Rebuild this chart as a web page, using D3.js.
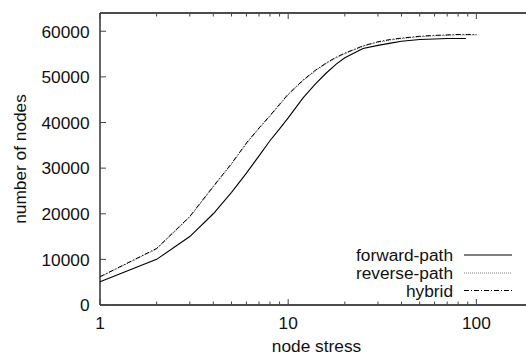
<!DOCTYPE html>
<html>
<head>
<meta charset="utf-8">
<script src="https://cdn.jsdelivr.net/npm/d3@7"></script>
<style>
  html, body { margin: 0; padding: 0; background: #fff; }
  svg { display: block; font-family: "Liberation Sans", Arial, sans-serif; }
</style>
</head>
<body>
<svg id="chart" width="526" height="355"></svg>
<script>
// Node stress values (x) and node counts for each routing strategy
const forwardStress = [1, 2, 3, 4, 5, 6, 7, 8, 9, 10, 12, 14, 16, 18, 20, 25, 30, 35, 40, 50, 60, 70, 80, 88];
const forwardNodes  = [5100, 10000, 15000, 20000, 24700, 28900, 32700, 36000, 38600, 41000, 45400, 48500, 50900, 52800, 54200, 56200, 56900, 57400, 57800, 58200, 58300, 58400, 58400, 58400];

const reverseStress = [1, 2, 3, 4, 5, 6, 7, 8, 9, 10, 12, 14, 16, 18, 20, 25, 30, 35, 40, 50, 60, 70, 80, 90, 100];
const reverseNodes  = [6100, 12300, 19300, 25900, 30900, 35400, 38700, 41400, 43900, 46100, 49200, 51400, 53000, 54200, 55100, 56700, 57600, 58100, 58400, 58800, 59000, 59100, 59200, 59200, 59200];

const hybridStress = [1, 2, 3, 4, 5, 6, 7, 8, 9, 10, 12, 14, 16, 18, 20, 25, 30, 35, 40, 50, 60, 70, 80, 90, 100];
const hybridNodes  = [6200, 12400, 19400, 26000, 31000, 35500, 38800, 41500, 44000, 46200, 49300, 51500, 53100, 54300, 55200, 56800, 57700, 58200, 58500, 58900, 59100, 59200, 59300, 59300, 59300];

const xTickValues = [1, 10, 100];
const yTickValues = [0, 10000, 20000, 30000, 40000, 50000, 60000];
const seriesNames = ["forward-path", "reverse-path", "hybrid"];

const svg = d3.select("#chart");
const plotLeft = 100, plotRight = 533, plotTop = 13, plotBottom = 305;

const x = d3.scaleLog().domain([1, 200]).range([plotLeft, plotRight]);
const y = d3.scaleLinear().domain([0, 64000]).range([plotBottom, plotTop]);

const fontSize = 17.3;

// minor ticks on the log axis: 2..9 in each decade
const minorX = [];
[1, 10, 100].forEach(d => { for (let k = 2; k <= 9; k++) { if (d * k <= 200) minorX.push(d * k); } });

const axisColor = "#111";

// frame (left, bottom, top)
svg.append("line").attr("x1", plotLeft).attr("x2", plotRight + 5).attr("y1", plotBottom).attr("y2", plotBottom)
  .attr("stroke", axisColor).attr("stroke-width", 1.3);
svg.append("line").attr("x1", plotLeft).attr("x2", plotRight + 5).attr("y1", plotTop).attr("y2", plotTop)
  .attr("stroke", axisColor).attr("stroke-width", 1.3);
svg.append("line").attr("x1", plotLeft).attr("x2", plotLeft).attr("y1", plotTop).attr("y2", plotBottom)
  .attr("stroke", axisColor).attr("stroke-width", 1.3);

// x ticks (inward, mirrored on top)
const tickG = svg.append("g").attr("stroke", "#444").attr("stroke-width", 1);
xTickValues.forEach(v => {
  tickG.append("line").attr("x1", x(v)).attr("x2", x(v)).attr("y1", plotBottom).attr("y2", plotBottom - 6);
  tickG.append("line").attr("x1", x(v)).attr("x2", x(v)).attr("y1", plotTop).attr("y2", plotTop + 6);
});
minorX.forEach(v => {
  tickG.append("line").attr("x1", x(v)).attr("x2", x(v)).attr("y1", plotBottom).attr("y2", plotBottom - 3.5);
  tickG.append("line").attr("x1", x(v)).attr("x2", x(v)).attr("y1", plotTop).attr("y2", plotTop + 3.5);
});
yTickValues.forEach(v => {
  tickG.append("line").attr("x1", plotLeft).attr("x2", plotLeft + 6).attr("y1", y(v)).attr("y2", y(v));
});

// tick labels
svg.append("g").selectAll("text").data(xTickValues).join("text")
  .attr("x", d => x(d)).attr("y", 329)
  .attr("text-anchor", "middle").attr("font-size", fontSize).attr("fill", "#111")
  .text(d => d3.format("d")(d));

svg.append("g").selectAll("text").data(yTickValues).join("text")
  .attr("x", 89.5).attr("y", d => y(d) + 6.3)
  .attr("text-anchor", "end").attr("font-size", fontSize).attr("fill", "#111")
  .text(d => d3.format("d")(d));

// axis titles
svg.append("text").attr("x", (plotLeft + plotRight) / 2).attr("y", 351.5)
  .attr("text-anchor", "middle").attr("font-size", fontSize).attr("fill", "#111")
  .text("node stress");
svg.append("text")
  .attr("transform", `translate(25.5, ${(plotTop + plotBottom) / 2}) rotate(-90)`)
  .attr("text-anchor", "middle").attr("font-size", fontSize).attr("fill", "#111")
  .text("number of nodes");

// series
const line = d3.line().x(d => x(d[0])).y(d => y(d[1]));
const styles = [
  { stroke: "#000", dash: null, width: 1.1 },
  { stroke: "#777", dash: "1,1", width: 1.1 },
  { stroke: "#000", dash: "5,2,1,2", width: 1 }
];
const seriesData = [
  d3.zip(forwardStress, forwardNodes),
  d3.zip(reverseStress, reverseNodes),
  d3.zip(hybridStress, hybridNodes)
];

svg.append("g").selectAll("path").data(seriesData).join("path")
  .attr("d", line)
  .attr("fill", "none")
  .attr("stroke", (d, i) => styles[i].stroke)
  .attr("stroke-width", (d, i) => styles[i].width)
  .attr("stroke-dasharray", (d, i) => styles[i].dash);

// legend
const legendY = [255, 273, 290.5];
const legend = svg.append("g");
seriesNames.forEach((name, i) => {
  legend.append("text").attr("x", 453).attr("y", legendY[i] + 6.2)
    .attr("text-anchor", "end").attr("font-size", fontSize).attr("fill", "#111").text(name);
  legend.append("line").attr("x1", 464).attr("x2", 512).attr("y1", legendY[i]).attr("y2", legendY[i])
    .attr("stroke", styles[i].stroke).attr("stroke-width", styles[i].width)
    .attr("stroke-dasharray", styles[i].dash);
});
</script>
</body>
</html>
